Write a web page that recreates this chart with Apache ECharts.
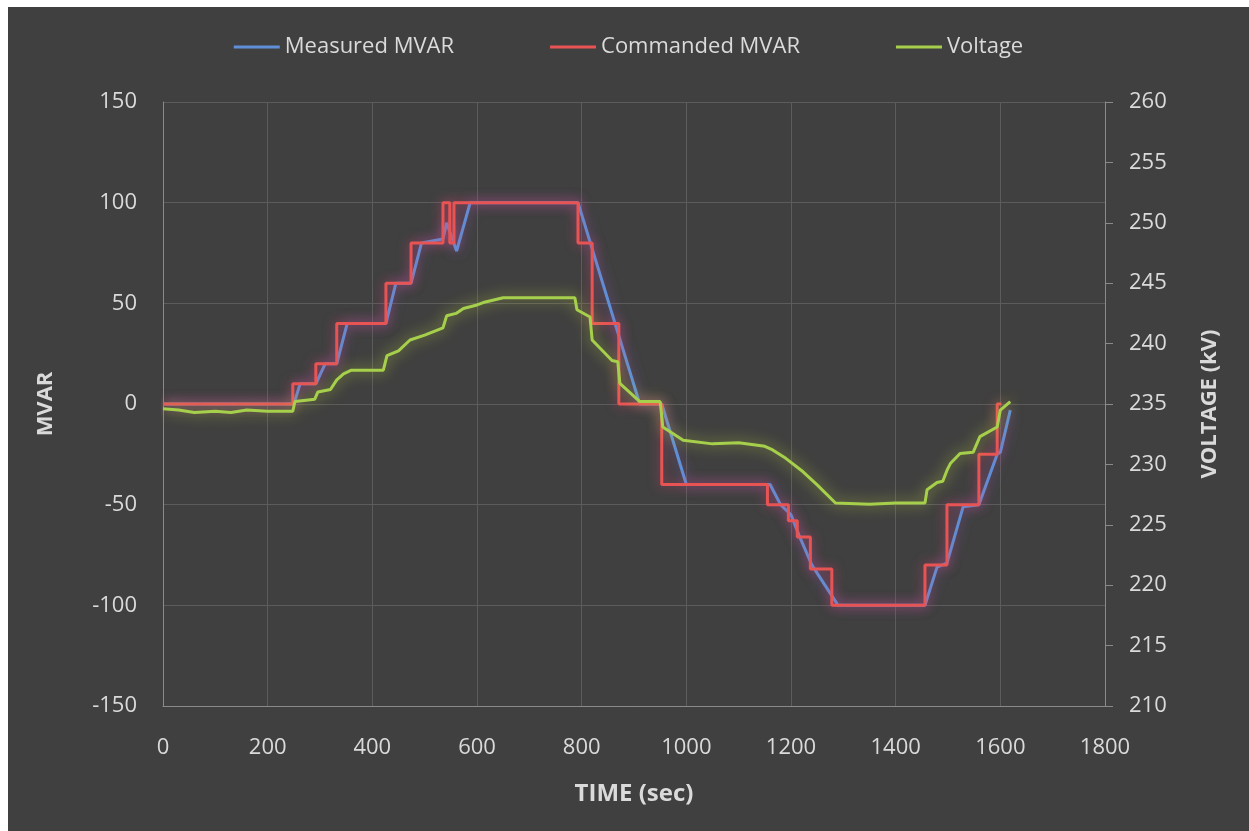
<!DOCTYPE html>
<html>
<head>
<meta charset="utf-8">
<script src="https://cdn.jsdelivr.net/npm/echarts@6/dist/echarts.min.js"></script>
<style>
  html, body { margin: 0; padding: 0; background: #ffffff; }
  #main { position: absolute; left: 8px; top: 7px; width: 1241px; height: 824px; background: #404040; }
</style>
</head>
<body>
<div id="main"></div>
<script>
// commanded MVAR (step, value held until next point)
var cmdTime = [0, 248, 292, 332, 426, 474, 535, 548, 556, 793, 820, 871, 953, 1155, 1195, 1212, 1237, 1278, 1456, 1498, 1559, 1594, 1602];
var cmdMvar = [0, 10, 20, 40, 60, 80, 100, 80, 100, 80, 40, 0, -40, -50, -58, -66, -82, -100, -80, -50, -25, 0, 0];

// measured MVAR
var measTime = [0, 250, 262, 292, 310, 332, 352, 426, 445, 474, 494, 535, 542, 561, 587, 793, 911, 953, 1000, 1160, 1180, 1200, 1215, 1240, 1290, 1456, 1479, 1498, 1529, 1559, 1594, 1600, 1619];
var measMvar = [0, 0, 10, 10, 20, 20, 40, 40, 60, 60, 80, 82, 90, 76, 100, 100, 0, 0, -40, -40, -50, -55, -65, -80, -100, -100, -81, -79, -51, -50, -25, -24, -3];

// voltage kV
var voltTime = [0, 30, 60, 100, 130, 160, 200, 248, 252, 290, 296, 320, 332, 345, 360, 421, 428, 450, 472, 500, 535, 542, 560, 574, 600, 612, 650, 787, 791, 816, 820, 858, 869, 873, 911, 950, 955, 994, 1050, 1100, 1150, 1165, 1190, 1220, 1250, 1285, 1350, 1400, 1456, 1460, 1479, 1490, 1498, 1505, 1523, 1548, 1561, 1594, 1600, 1619];
var voltKv = [234.6, 234.5, 234.3, 234.4, 234.3, 234.5, 234.4, 234.4, 235.2, 235.4, 236.0, 236.2, 237.0, 237.5, 237.8, 237.8, 239.0, 239.4, 240.3, 240.7, 241.3, 242.3, 242.5, 242.9, 243.2, 243.4, 243.8, 243.8, 242.8, 242.2, 240.3, 238.6, 238.5, 236.7, 235.2, 235.2, 233.1, 232.0, 231.7, 231.8, 231.5, 231.2, 230.5, 229.5, 228.3, 226.8, 226.7, 226.8, 226.8, 227.9, 228.5, 228.6, 229.5, 230.1, 230.9, 231.0, 232.3, 233.1, 234.5, 235.2];

function zip(a, b) {
    return a.map(function (v, i) { return [v, b[i]]; });
}

var textColor = '#dadada';
var gridColor = '#5c5c5c';
var font = "'Open Sans', sans-serif";

var myChart = echarts.init(document.getElementById('main'));

var option = {
    backgroundColor: '#404040',
    animation: false,
    legend: {
        top: 24,
        left: 'center',
        icon: 'rect',
        itemWidth: 46,
        itemHeight: 3,
        itemGap: 96,
        textStyle: { color: textColor, fontSize: 22, fontFamily: font },
        data: ['Measured MVAR', 'Commanded MVAR', 'Voltage']
    },
    grid: { left: 155, right: 144, top: 95, bottom: 125 },
    xAxis: {
        type: 'value',
        min: 0,
        max: 1800,
        interval: 200,
        name: 'TIME (sec)',
        nameLocation: 'middle',
        nameGap: 76,
        nameTextStyle: { color: textColor, fontSize: 24, fontWeight: 'bold', fontFamily: font },
        axisLine: { show: true, onZero: false, lineStyle: { color: '#8a8a8a' } },
        axisTick: { show: false },
        axisLabel: { color: textColor, fontSize: 22, fontFamily: font, margin: 31, formatter: function (v) { return String(v); } },
        splitLine: { show: true, lineStyle: { color: gridColor } }
    },
    yAxis: [{
        type: 'value',
        min: -150,
        max: 150,
        interval: 50,
        name: 'MVAR',
        nameLocation: 'middle',
        nameGap: 106,
        nameTextStyle: { color: textColor, fontSize: 22, fontWeight: 'bold', fontFamily: font },
        axisLine: { show: true, onZero: false, lineStyle: { color: '#8a8a8a' } },
        axisTick: { show: false },
        axisLabel: { color: textColor, fontSize: 22, fontFamily: font, margin: 26 },
        splitLine: { show: true, lineStyle: { color: gridColor } }
    }, {
        type: 'value',
        position: 'right',
        min: 210,
        max: 260,
        interval: 5,
        name: 'VOLTAGE (kV)',
        nameLocation: 'middle',
        nameGap: 94,
        nameTextStyle: { color: textColor, fontSize: 22, fontWeight: 'bold', fontFamily: font },
        axisLine: { show: true, onZero: false, lineStyle: { color: '#8a8a8a' } },
        axisTick: { show: true, length: 8, lineStyle: { color: '#8a8a8a' } },
        axisLabel: { color: textColor, fontSize: 22, fontFamily: font, margin: 24 },
        splitLine: { show: false }
    }],
    series: [{
        name: 'Measured MVAR',
        type: 'line',
        yAxisIndex: 0,
        showSymbol: false,
        color: '#5f8fd6',
        lineStyle: { width: 3, color: '#5f8fd6', shadowColor: 'rgba(150,90,200,0.7)', shadowBlur: 12 },
        data: zip(measTime, measMvar)
    }, {
        name: 'Commanded MVAR',
        type: 'line',
        yAxisIndex: 0,
        step: 'end',
        showSymbol: false,
        color: '#e85454',
        lineStyle: { width: 3, color: '#e85454', shadowColor: 'rgba(220,70,120,0.7)', shadowBlur: 12 },
        data: zip(cmdTime, cmdMvar)
    }, {
        name: 'Voltage',
        type: 'line',
        yAxisIndex: 1,
        showSymbol: false,
        color: '#a6d04c',
        lineStyle: { width: 3, color: '#a6d04c', shadowColor: 'rgba(200,220,60,0.75)', shadowBlur: 14 },
        data: zip(voltTime, voltKv)
    }]
};

myChart.setOption(option);
</script>
</body>
</html>
